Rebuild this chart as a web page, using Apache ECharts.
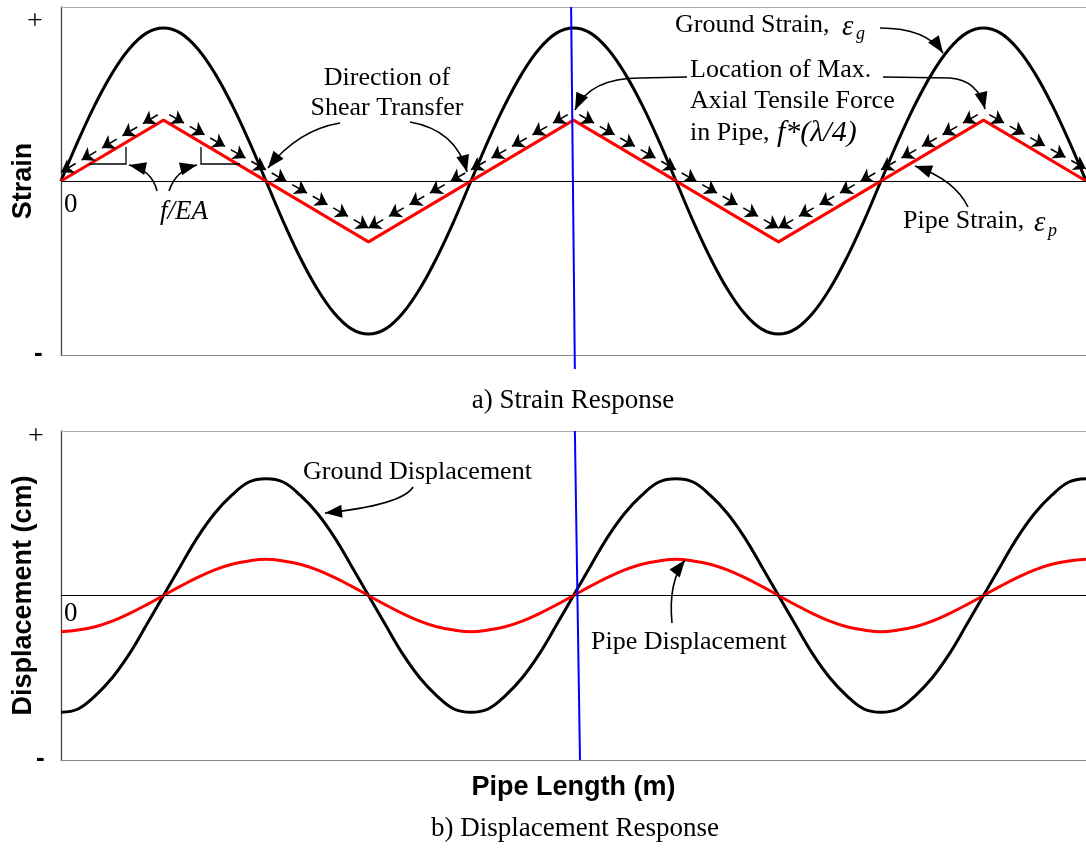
<!DOCTYPE html>
<html><head><meta charset="utf-8">
<script src="https://cdn.jsdelivr.net/npm/echarts@6/dist/echarts.min.js"></script>
<style>html,body{margin:0;padding:0;background:#fff}#c{width:1086px;height:857px}</style>
</head><body><div id="c"></div>
<script>
// ---- data (x in units of 1/24 wavelength along the pipe) ----
const xPos = [0,1,2,3,4,5,6,7,8,9,10,11,12,13,14,15,16,17,18,19,20,21,22,23,24,25,26,27,28,29,30,
              31,32,33,34,35,36,37,38,39,40,41,42,43,44,45,46,47,48,49,50,51,52,53,54,55,56,57,58,59,60];
const groundStrain = [0,0.23,0.44,0.62,0.76,0.85,0.88,0.85,0.76,0.62,0.44,0.23,0,-0.23,-0.44,-0.62,-0.76,-0.85,-0.88,-0.85,-0.76,-0.62,-0.44,-0.23,
                      0,0.23,0.44,0.62,0.76,0.85,0.88,0.85,0.76,0.62,0.44,0.23,0,-0.23,-0.44,-0.62,-0.76,-0.85,-0.88,-0.85,-0.76,-0.62,-0.44,-0.23,
                      0,0.23,0.44,0.62,0.76,0.85,0.88,0.85,0.76,0.62,0.44,0.23,0];
const pipeStrainX = [0,6,18,30,42,54,60];
const pipeStrainY = [0,0.35,-0.35,0.35,-0.35,0.35,0];
const shearX = [0,6,18,30,42,54,60];
const shearY = [0.05,0.40,-0.27,0.40,-0.27,0.40,0.07];
const shearArrows = [5,10,10,10,10,5];
const groundDisp = [-0.71,-0.69,-0.61,-0.50,-0.355,-0.18,0,0.18,0.355,0.50,0.61,0.69,0.71,0.69,0.61,0.50,0.355,0.18,0,-0.18,-0.355,-0.50,-0.61,-0.69,
                    -0.71,-0.69,-0.61,-0.50,-0.355,-0.18,0,0.18,0.355,0.50,0.61,0.69,0.71,0.69,0.61,0.50,0.355,0.18,0,-0.18,-0.355,-0.50,-0.61,-0.69,
                    -0.71,-0.69,-0.61,-0.50,-0.355,-0.18,0,0.18,0.355,0.50,0.61,0.69,0.71];
const pipeDisp = [-0.22,-0.21,-0.19,-0.156,-0.11,-0.057,0,0.057,0.11,0.156,0.19,0.21,0.22,0.21,0.19,0.156,0.11,0.057,0,-0.057,-0.11,-0.156,-0.19,-0.21,
                  -0.22,-0.21,-0.19,-0.156,-0.11,-0.057,0,0.057,0.11,0.156,0.19,0.21,0.22,0.21,0.19,0.156,0.11,0.057,0,-0.057,-0.11,-0.156,-0.19,-0.21,
                  -0.22,-0.21,-0.19,-0.156,-0.11,-0.057,0,0.057,0.11,0.156,0.19,0.21,0.22];
const blueTop = [[29.86,1.0],[30.08,-1.08]];
const blueBottom = [[30.08,1.0],[30.38,-1.0]];

const SERIF = '"Liberation Serif","Times New Roman",serif';
const SANS = '"Liberation Sans",Arial,sans-serif';

function pairs(xs, ys){ return xs.map((x,i)=>[x, ys[i]]); }

// dashed "shear transfer" arrows: short arrows pointing from high end to low end of each leg
const shearSegs = [];
for (let k=0;k<shearX.length-1;k++){
  let a=[shearX[k],shearY[k]], b=[shearX[k+1],shearY[k+1]];
  let s = a[1]>b[1]?a:b, e = a[1]>b[1]?b:a;
  const n = shearArrows[k];
  for (let i=0;i<n;i++){
    const t0=(i+0.28)/n, t1=(i+1)/n;
    shearSegs.push({coords:[[s[0]+(e[0]-s[0])*t0, s[1]+(e[1]-s[1])*t0],
                            [s[0]+(e[0]-s[0])*t1, s[1]+(e[1]-s[1])*t1]]});
  }
}

// annotation helpers (pixel space)
function head(tip, from, len, half){
  len=len||17; half=half||6.5;
  const ang=Math.atan2(tip[1]-from[1], tip[0]-from[0]);
  const bx=tip[0]-len*Math.cos(ang), by=tip[1]-len*Math.sin(ang);
  const px=-Math.sin(ang)*half, py=Math.cos(ang)*half;
  return {type:'polygon', shape:{points:[[tip[0],tip[1]],[bx+px,by+py],[bx-px,by-py]]}, style:{fill:'#000'}, z:100};
}
function arrow(start, cp, tip, extra){
  const els=[];
  if (extra) els.push({type:'polyline', shape:{points:extra}, style:{stroke:'#000', lineWidth:1.5, fill:null}, z:100});
  els.push({type:'bezierCurve', shape:{x1:start[0],y1:start[1],cpx1:cp[0],cpy1:cp[1],x2:tip[0],y2:tip[1]},
            style:{stroke:'#000', lineWidth:1.6, fill:null}, z:100});
  els.push(head(tip, cp));
  return els;
}
function txt(t, x, y, opts){
  opts=opts||{};
  return {type:'text', z:100, style:{text:t, x:x, y:y, fill:'#000',
    font:(opts.style||'normal')+' '+(opts.weight||'normal')+' '+(opts.size||26)+'px '+(opts.family||SERIF),
    textAlign:opts.align||'left', align:opts.align||'left',
    textVerticalAlign:'middle', verticalAlign:'middle'}};
}

const graphics = [].concat(
  txt('+', 27, 22, {size:28}),
  txt('-', 34, 354, {size:26, weight:'bold', family:SANS}),
  txt('+', 28, 437, {size:28}),
  txt('-', 36, 759, {size:26, weight:'bold', family:SANS}),
  txt('0', 64, 205, {size:27}),
  txt('0', 64, 614, {size:27}),
  txt('f/EA', 160, 212, {size:27, style:'italic'}),
  txt('Direction of', 387, 78, {align:'center'}),
  txt('Shear Transfer', 387, 108, {align:'center'}),
  txt('Ground Strain,', 675, 25),
  txt('ε', 842, 27, {style:'italic', size:29}),
  txt('g', 856, 34, {style:'italic', size:18}),
  txt('Location of Max.', 690, 70),
  txt('Axial Tensile Force', 690, 101),
  txt('in Pipe,', 690, 133),
  txt('f*(λ/4)', 777, 133, {style:'italic', size:30}),
  txt('Pipe Strain,', 903, 221),
  txt('ε', 1034, 223, {style:'italic', size:29}),
  txt('p', 1048, 231, {style:'italic', size:18}),
  txt('a) Strain Response', 573, 401, {align:'center', size:27}),
  txt('Ground Displacement', 303, 472),
  txt('Pipe Displacement', 591, 642),
  txt('b) Displacement Response', 575, 829, {align:'center', size:27}),
  // f/EA brackets
  [{type:'polyline', shape:{points:[[89,164],[126,164],[126,147]]}, style:{stroke:'#000', lineWidth:1.3, fill:null}, z:100},
   {type:'polyline', shape:{points:[[240,164],[201,164],[201,147]]}, style:{stroke:'#000', lineWidth:1.3, fill:null}, z:100}],
  arrow([157,191],[152,170],[129,165]),
  arrow([169,191],[176,170],[197,165]),
  arrow([340,123],[298,130],[268,168]),
  arrow([410,122],[456,130],[467,172]),
  arrow([880,28],[926,28],[943,53]),
  arrow([640,78],[590,78],[575,110], [[687,77],[640,78]]),
  arrow([950,78],[978,80],[985,109], [[883,77],[950,78]]),
  arrow([968,207],[955,180],[915,166]),
  arrow([413,487],[402,505],[325,513]),
  arrow([672,623],[668,582],[685,560])
);

const hiddenX = (gi, pos, color) => ({type:'value', gridIndex:gi, min:0, max:60, position:pos,
  axisLine:{show:true, onZero:false, lineStyle:{color:color, width:1.2}}, axisTick:{show:false},
  axisLabel:{show:false}, splitLine:{show:false}});

const option = {
  animation:false,
  backgroundColor:'#fff',
  grid:[{left:61, top:7, right:0, height:348},
        {left:61, top:431, right:0, height:329}],
  xAxis:[
    hiddenX(0,'bottom','#888'),
    Object.assign(hiddenX(1,'bottom','#888'), {name:'Pipe Length (m)', nameLocation:'middle', nameGap:14,
      nameTextStyle:{fontFamily:SANS, fontWeight:'bold', fontSize:27, color:'#000', verticalAlign:'top'}}),
    hiddenX(0,'top','#aaa'),
    hiddenX(1,'top','#aaa')
  ],
  yAxis:[
    {type:'value', gridIndex:0, min:-1, max:1, name:'Strain', nameLocation:'middle', nameGap:24,
     nameTextStyle:{fontFamily:SANS, fontWeight:'bold', fontSize:27, color:'#000'},
     axisLine:{show:true, onZero:false, lineStyle:{color:'#444', width:1.3}}, axisTick:{show:false},
     axisLabel:{show:false}, splitLine:{show:false}},
    {type:'value', gridIndex:1, min:-1, max:1, name:'Displacement (cm)', nameLocation:'middle', nameGap:24,
     nameTextStyle:{fontFamily:SANS, fontWeight:'bold', fontSize:27, color:'#000'},
     axisLine:{show:true, onZero:false, lineStyle:{color:'#444', width:1.3}}, axisTick:{show:false},
     axisLabel:{show:false}, splitLine:{show:false}}
  ],
  series:[
    {name:'Ground Strain', type:'line', xAxisIndex:0, yAxisIndex:0, data:pairs(xPos, groundStrain),
     smooth:0.4, symbol:'none', lineStyle:{color:'#000', width:3}, z:3,
     markLine:{silent:true, symbol:'none', label:{show:false}, lineStyle:{color:'#000', width:1, type:'solid'},
       data:[{yAxis:0}]}},
    {name:'Pipe Strain', type:'line', xAxisIndex:0, yAxisIndex:0, data:pairs(pipeStrainX, pipeStrainY),
     symbol:'none', lineStyle:{color:'#ff0000', width:3}, z:4},
    {name:'Shear Transfer', type:'lines', coordinateSystem:'cartesian2d', xAxisIndex:0, yAxisIndex:0,
     data:shearSegs, symbol:['none','arrow'], symbolSize:12,
     lineStyle:{color:'#000', width:1.6, opacity:1, curveness:0}, z:5},
    {name:'Max Force Location', type:'line', xAxisIndex:0, yAxisIndex:0, data:blueTop, clip:false,
     symbol:'none', lineStyle:{color:'#0000ff', width:2}, z:6},
    {name:'Ground Displacement', type:'line', xAxisIndex:1, yAxisIndex:1, data:pairs(xPos, groundDisp),
     smooth:0.4, symbol:'none', lineStyle:{color:'#000', width:3}, z:3,
     markLine:{silent:true, symbol:'none', label:{show:false}, lineStyle:{color:'#000', width:1, type:'solid'},
       data:[{yAxis:0}]}},
    {name:'Pipe Displacement', type:'line', xAxisIndex:1, yAxisIndex:1, data:pairs(xPos, pipeDisp),
     smooth:0.4, symbol:'none', lineStyle:{color:'#ff0000', width:3}, z:4},
    {name:'Max Force Location 2', type:'line', xAxisIndex:1, yAxisIndex:1, data:blueBottom, clip:false,
     symbol:'none', lineStyle:{color:'#0000ff', width:2}, z:6}
  ],
  graphic:graphics
};
const chart = echarts.init(document.getElementById('c'), null, {renderer:'canvas'});
chart.setOption(option);
</script></body></html>
